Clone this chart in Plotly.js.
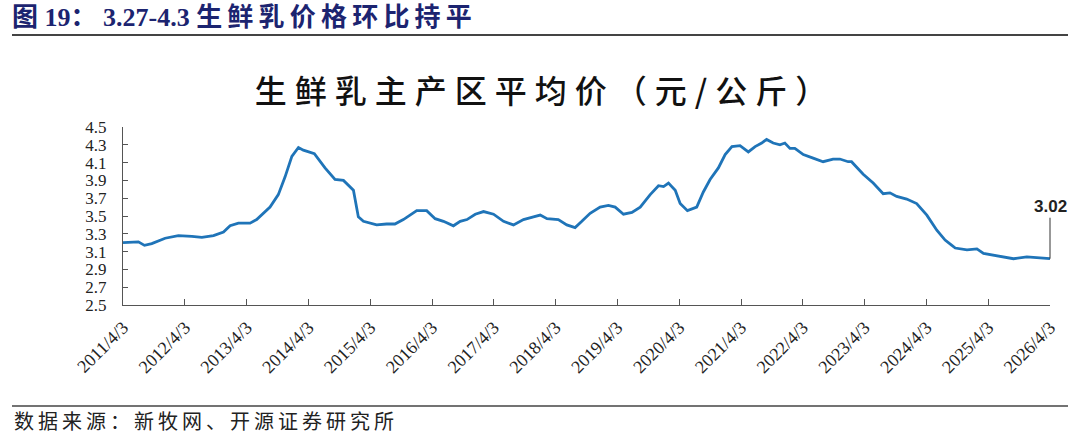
<!DOCTYPE html>
<html><head><meta charset="utf-8">
<script src="https://cdn.plot.ly/plotly-3.0.1.min.js"></script>
<style>
html,body{margin:0;padding:0;background:#fff;overflow:hidden;} #chart{width:1080px;height:436px;}
#chart .gtitle{letter-spacing:8px;}
</style>
</head><body><div id="chart"></div>
<script>
// ---- data ----
const dates = [
'2011-04-03','2011-07-03','2011-08-08','2011-09-20','2011-12-08','2012-02-24','2012-05-14','2012-07-12','2012-09-19','2012-11-17',
'2012-12-26','2013-02-13','2013-04-23','2013-06-01','2013-08-19','2013-10-07','2013-11-16','2013-12-26','2014-02-03','2014-03-04',
'2014-05-08','2014-07-10','2014-09-07','2014-10-27','2014-12-25','2015-01-23','2015-02-22','2015-05-11','2015-07-09','2015-08-27',
'2015-10-16','2016-01-03','2016-03-02','2016-04-21','2016-06-09','2016-08-07','2016-09-16','2016-10-26','2016-12-14','2017-02-01',
'2017-04-01','2017-05-30','2017-07-28','2017-09-25','2017-11-23','2018-01-02','2018-02-11','2018-04-19','2018-06-08','2018-07-27',
'2018-09-05','2018-10-24','2018-12-22','2019-02-09','2019-03-21','2019-05-09','2019-06-28','2019-08-16','2019-10-14','2019-12-02',
'2020-01-01','2020-01-30','2020-03-10','2020-04-08','2020-05-21','2020-07-15','2020-08-23','2020-10-02','2020-11-20','2020-12-30',
'2021-02-08','2021-03-28','2021-05-16','2021-06-25','2021-08-03','2021-09-01','2021-10-10','2021-11-19','2021-12-18','2022-01-17',
'2022-02-15','2022-04-06','2022-06-03','2022-08-01','2022-09-29','2022-11-08','2022-12-27','2023-01-16','2023-03-26','2023-05-24',
'2023-07-22','2023-08-31','2023-10-10','2023-12-08','2024-02-05','2024-04-05','2024-06-03','2024-07-22','2024-08-31','2024-09-20',
'2024-11-28','2025-01-26','2025-03-06','2025-05-04','2025-07-01','2025-08-30','2025-11-17','2026-02-04','2026-04-03'
];
const prices = [
3.20,3.21,3.17,3.19,3.25,3.28,3.27,3.26,3.28,3.32,
3.39,3.42,3.42,3.46,3.60,3.74,3.94,4.17,4.27,4.24,
4.20,4.04,3.91,3.90,3.79,3.49,3.44,3.40,3.41,3.41,
3.46,3.56,3.56,3.47,3.44,3.39,3.44,3.46,3.52,3.55,
3.52,3.44,3.40,3.46,3.49,3.51,3.47,3.46,3.40,3.37,
3.44,3.53,3.60,3.62,3.60,3.52,3.54,3.60,3.74,3.84,
3.83,3.87,3.79,3.64,3.56,3.60,3.77,3.91,4.04,4.19,
4.28,4.29,4.22,4.28,4.32,4.36,4.32,4.30,4.32,4.26,
4.26,4.19,4.15,4.11,4.14,4.14,4.11,4.11,3.97,3.87,
3.75,3.76,3.72,3.69,3.64,3.51,3.34,3.23,3.17,3.14,
3.12,3.13,3.08,3.06,3.04,3.02,3.04,3.03,3.02
];
const tickDates = ['2011-04-03','2012-04-03','2013-04-03','2014-04-03','2015-04-03','2016-04-03','2017-04-03','2018-04-03',
'2019-04-03','2020-04-03','2021-04-03','2022-04-03','2023-04-03','2024-04-03','2025-04-03','2026-04-03'];
const tickLabels = ['2011/4/3','2012/4/3','2013/4/3','2014/4/3','2015/4/3','2016/4/3','2017/4/3','2018/4/3',
'2019/4/3','2020/4/3','2021/4/3','2022/4/3','2023/4/3','2024/4/3','2025/4/3','2026/4/3'];
const yTicks = [2.5,2.7,2.9,3.1,3.3,3.5,3.7,3.9,4.1,4.3,4.5];
const headerText = '图 19： 3.27-4.3 生\u2009鲜\u2009乳\u2009价\u2009格\u2009环\u2009比\u2009持\u2009平';
const chartTitle = '生鲜乳主产区平均价（元/公斤）';
const sourceText = '数\u2009据\u2009来\u2009源\u2009：\u2009新\u2009牧\u2009网\u2009、\u2009开\u2009源\u2009证\u2009券\u2009研\u2009究\u2009所';
const lastLabel = '3.02';

// ---- layout helpers (pixel -> paper) ----
const W = 1080, H = 436, L = 123, R = 30, T = 127, B = 131;
const pw = W - L - R, ph = H - T - B;
const px = x => (x - L) / pw;
const py = y => (H - B - y) / ph;

const serif = 'Liberation Serif, "Times New Roman", serif';
const cjk = '"Liberation Serif", "Noto Sans CJK SC", sans-serif';

const trace = {
  type: 'scatter', mode: 'lines', x: dates, y: prices,
  line: {color: '#1f74b8', width: 2.8, shape: 'linear'},
  hoverinfo: 'skip', showlegend: false
};

const layout = {
  width: W, height: H,
  margin: {l: L, r: R, t: T, b: B},
  paper_bgcolor: '#fff', plot_bgcolor: '#fff',
  showlegend: false,
  title: {
    text: chartTitle, x: 545 / W, y: 1 - 92 / H, xanchor: 'center', yanchor: 'middle',
    xref: 'container', yref: 'container',
    font: {family: '"Noto Sans CJK SC", sans-serif', size: 32, color: '#111', weight: 500}
  },
  xaxis: {
    type: 'date', range: ['2011-04-03', '2026-04-03'], autorange: false,
    tickmode: 'array', tickvals: tickDates, ticktext: tickLabels,
    tickangle: -45, ticks: 'inside', ticklen: 6, tickcolor: '#555', tickwidth: 1,
    showline: true, linecolor: '#555', linewidth: 1, showgrid: false, zeroline: false,
    tickfont: {family: serif, size: 18, color: '#222'}, automargin: false, ticklabelstandoff: 4
  },
  yaxis: {
    range: [2.5, 4.5], autorange: false, tickmode: 'array', tickvals: yTicks,
    ticktext: yTicks.map(v => v.toFixed(1)),
    ticks: 'inside', ticklen: 5, tickcolor: '#555', tickwidth: 1,
    showline: true, linecolor: '#555', linewidth: 1, showgrid: false, zeroline: false,
    tickfont: {family: serif, size: 17, color: '#222'}, automargin: false, ticklabelstandoff: 12
  },
  shapes: [
    {type: 'line', xref: 'paper', yref: 'paper', x0: px(12), x1: px(1068), y0: py(35), y1: py(35),
     line: {color: '#444', width: 2}},
    {type: 'line', xref: 'paper', yref: 'paper', x0: px(12), x1: px(1068), y0: py(406), y1: py(406),
     line: {color: '#444', width: 1.5}}
  ],
  annotations: [
    {xref: 'paper', yref: 'paper', x: px(10), y: py(18), xanchor: 'left', yanchor: 'middle', showarrow: false,
     text: '<b>' + headerText + '</b>', font: {family: cjk, size: 26, color: '#1c2470'}},
    {xref: 'paper', yref: 'paper', x: px(12), y: py(420), xanchor: 'left', yanchor: 'middle', showarrow: false,
     text: sourceText, font: {family: '"Noto Sans CJK SC", sans-serif', size: 20, color: '#222'}},
    {xref: 'x', yref: 'y', x: dates[dates.length - 1], y: prices[prices.length - 1],
     text: '<b>' + lastLabel + '</b>', showarrow: true, arrowhead: 0, arrowwidth: 1, arrowcolor: '#333',
     ax: 0, ay: -52, standoff: 0, font: {family: 'Liberation Sans, Arial, sans-serif', size: 17, color: '#222'}}
  ]
};

Plotly.newPlot('chart', [trace], layout, {displayModeBar: false, staticPlot: true});
</script>
</body></html>
